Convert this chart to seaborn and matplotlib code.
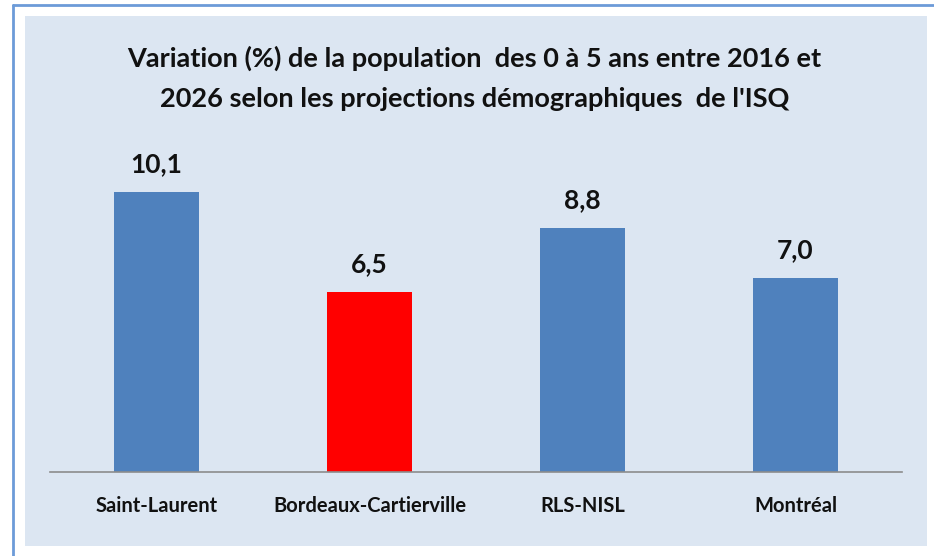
import matplotlib
matplotlib.use("Agg")
import matplotlib.pyplot as plt
from matplotlib.patches import Rectangle
import seaborn as sns
import pandas as pd

# donnees
territoires = ["Saint-Laurent", "Bordeaux-Cartierville", "RLS-NISL", "Montréal"]
variation = [10.1, 6.5, 8.8, 7.0]
couleurs = ["#4F81BD", "#FF0000", "#4F81BD", "#4F81BD"]

titre_l1 = "Variation (%) de la population  des 0 à 5 ans entre 2016 et"
titre_l2 = "2026 selon les projections démographiques  de l'ISQ"

df = pd.DataFrame({"territoire": territoires, "variation": variation})

sns.set_theme(style="white")
plt.rcParams["font.family"] = ["Lato", "DejaVu Sans"]

W, H = 934, 556
fig = plt.figure(figsize=(W / 100, H / 100), dpi=100)
fig.patch.set_facecolor("white")

# cadre bleu + panneau bleu pale
fig.patches.append(Rectangle((25 / W, 1 - 546 / H), (927 - 25) / W, (546 - 16) / H,
                             transform=fig.transFigure, facecolor="#DCE6F2",
                             edgecolor="none", zorder=-1))
fig.lines.append(plt.Line2D([13 / W, 13 / W], [0, 1 - 5 / H], transform=fig.transFigure,
                            color="#6C9BD8", lw=2))
fig.lines.append(plt.Line2D([13 / W, 1], [1 - 5 / H, 1 - 5 / H], transform=fig.transFigure,
                            color="#6C9BD8", lw=2))

ax = fig.add_axes([50 / W, 1 - 472 / H, (902 - 50) / W, (472 - 139) / H])
ax.set_facecolor("none")

sns.barplot(data=df, x="territoire", y="variation", hue="territoire",
            palette=couleurs, width=0.4, legend=False, saturation=1,
            linewidth=0, ax=ax)

for i, v in enumerate(variation):
    ax.annotate(f"{v:.1f}".replace(".", ","), (i, v), xytext=(0, 14),
                textcoords="offset points", ha="center", va="baseline",
                fontsize=19, fontweight="bold", color="#111111")

ax.set_ylim(0, 12)
ax.set_xlim(-0.5, 3.5)
ax.set_yticks([])
ax.set_xlabel("")
ax.set_ylabel("")
for s in ["top", "right", "left"]:
    ax.spines[s].set_visible(False)
ax.spines["bottom"].set_color("#8C8C8C")
ax.spines["bottom"].set_linewidth(1.2)
ax.tick_params(axis="x", length=0, pad=17, labelsize=14.5, colors="#111111")
for lab in ax.get_xticklabels():
    lab.set_fontweight("bold")

fig.text(474 / W, 1 - 67 / H, titre_l1, ha="center", va="baseline",
         fontsize=19.5, fontweight="bold", color="#111111")
fig.text(475 / W, 1 - 107 / H, titre_l2, ha="center", va="baseline",
         fontsize=19.5, fontweight="bold", color="#111111")

fig.savefig("out.png", dpi=100)
